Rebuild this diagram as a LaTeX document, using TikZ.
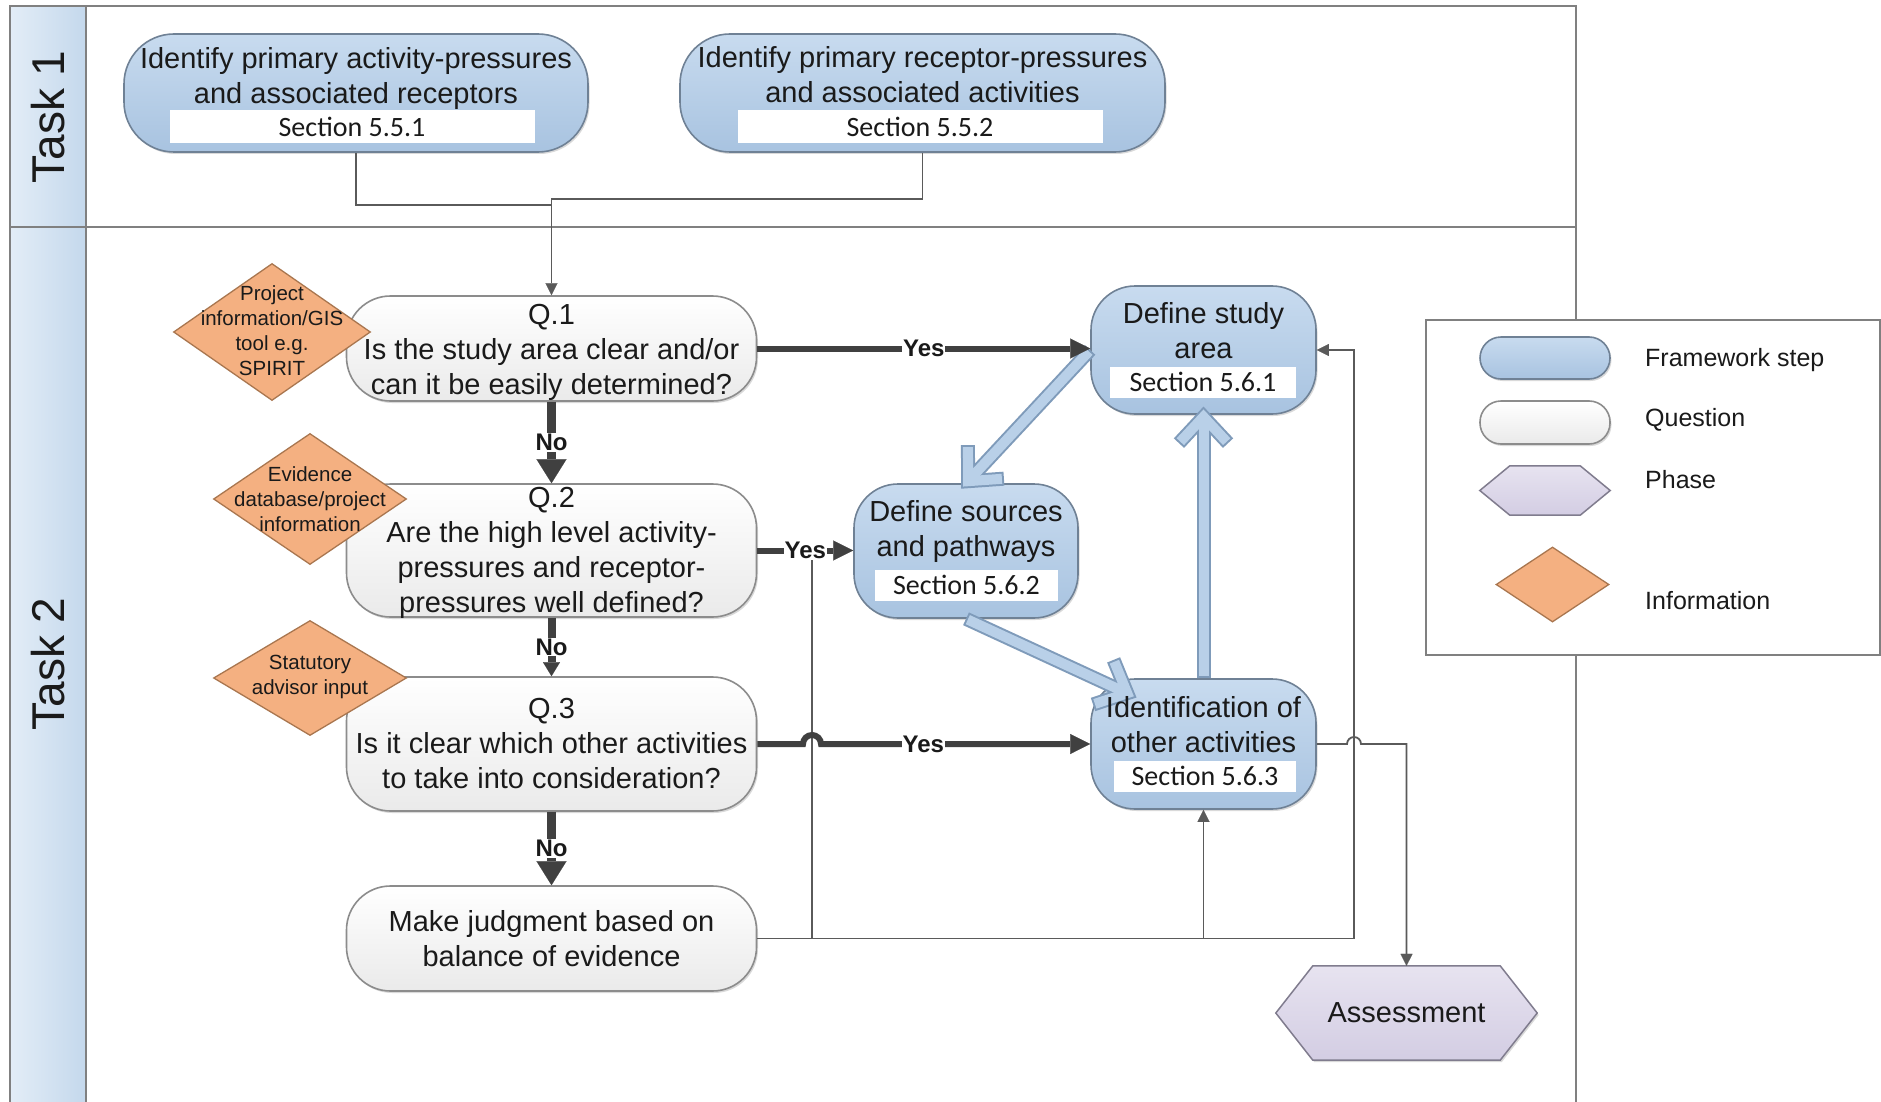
\documentclass[tikz,border=0pt]{standalone}
\usepackage{fontspec}
\setmainfont{Liberation Sans}
\newfontfamily\secfont{Carlito}
\usetikzlibrary{shapes.geometric,arrows.meta,calc,shadows}

\definecolor{poolline}{HTML}{808080}
\definecolor{headL}{HTML}{E3EDF7}
\definecolor{headR}{HTML}{C4D8EC}
\definecolor{fwtop}{HTML}{C8DBEF}
\definecolor{fwbot}{HTML}{A8C3E0}
\definecolor{fwedge}{HTML}{6F8195}
\definecolor{qbot}{HTML}{EAEAEA}
\definecolor{qedge}{HTML}{8C8C8C}
\definecolor{infofill}{HTML}{F4B081}
\definecolor{infoedge}{HTML}{A9764F}
\definecolor{phtop}{HTML}{E7E3F0}
\definecolor{phbot}{HTML}{D3CDE3}
\definecolor{phedge}{HTML}{807C8E}
\definecolor{darkln}{HTML}{404040}
\definecolor{thinln}{HTML}{5A5A5A}
\definecolor{bandfill}{HTML}{B9D0E8}
\definecolor{bandedge}{HTML}{7F9BBA}
\definecolor{txt}{HTML}{1A1A1A}

% wide hollow-looking arrow between framework steps: #1 start, #2 tip
\newcommand\bandarrow[2]{%
  \draw[bandout] (#1) -- (#2);
  \draw[bandout] ($(#2)!36pt!43:(#1)$) -- (#2) -- ($(#2)!36pt!-43:(#1)$);
  \draw[bandin] ($(#1)!2pt!(#2)$) -- (#2);
  \draw[bandin] ($(#2)!34pt!43:(#1)$) -- (#2) -- ($(#2)!34pt!-43:(#1)$);
}

\begin{document}
\begin{tikzpicture}[x=1pt, y=-1pt,
  every node/.style={text=txt},
  softshadow/.style={drop shadow={shadow xshift=1.5pt, shadow yshift=-2pt, opacity=0.15, fill=black}},
  pool/.style={draw=poolline, line width=2pt},
  fwstep/.style={softshadow, draw=fwedge, line width=1.6pt, rounded corners=44pt, top color=fwtop, bottom color=fwbot, inner sep=0pt},
  qshape/.style={softshadow, draw=qedge, line width=1.6pt, top color=white, bottom color=qbot, inner sep=0pt},
  question/.style={qshape, rounded corners=44pt, minimum width=410pt},
  steptext/.style={align=center, inner sep=0pt, font=\fontsize{29pt}{35pt}\selectfont},
  secbox/.style={fill=white, inner sep=0pt, font=\secfont\fontsize{28pt}{30pt}\selectfont},
  infoshape/.style={diamond, draw=infoedge, line width=1.3pt, fill=infofill, inner sep=0pt},
  infotext/.style={align=center, inner sep=0pt, font=\fontsize{20.5pt}{25pt}\selectfont},
  phaseshape/.style={draw=phedge, line width=1.5pt, top color=phtop, bottom color=phbot},
  thinline/.style={draw=thinln, line width=1.8pt},
  thinarrow/.style={thinline, -{Triangle[length=12pt, width=12pt, line width=0.1pt]}},
  yesarrow/.style={draw=darkln, line width=6pt, -{Triangle[length=20pt, width=20pt, line width=0.1pt]}},
  noarrow/.style={draw=darkln, line width=9pt, -{Triangle[length=24pt, width=30pt, line width=0.1pt]}},
  decision/.style={fill=white, inner sep=1pt, font=\bfseries\fontsize{24pt}{26pt}\selectfont},
  bandout/.style={draw=bandedge, line width=14pt, line join=miter},
  bandin/.style={draw=bandfill, line width=10pt, line join=miter},
  legtext/.style={anchor=west, inner sep=0pt, font=\fontsize{25pt}{30pt}\selectfont},
  tasktext/.style={rotate=90, inner sep=0pt, font=\fontsize{46pt}{50pt}\selectfont},
]
\useasboundingbox (0,0) rectangle (1881,1102);
\fill[white] (0,0) rectangle (1881,1102);

% swimlanes
\fill[left color=headL, right color=headR] (10,6) rectangle (86,1102);
\draw[pool] (10,1102) -- (10,6) -- (1576,6) -- (1576,1102);
\draw[pool] (10,227) -- (1576,227);
\draw[pool] (86,6) -- (86,1102);
\node[tasktext] (task1) at (48,117) {Task 1};
\node[tasktext] (task2) at (48,664) {Task 2};

% Task 1 steps
\node[fwstep, rounded corners=50pt, minimum width=464pt, minimum height=118pt] (t1a) at (356,93) {};
\node[steptext] (t1atext) at (356,78.5) {Identify primary activity-pressures\\and associated receptors};
\node[secbox, minimum width=365pt, minimum height=33pt] (t1asec) at (352,127) {Section 5.5.1};
\node[fwstep, rounded corners=50pt, minimum width=485pt, minimum height=118pt] (t1b) at (922.5,93) {};
\node[steptext] (t1btext) at (922.5,75) {Identify primary receptor-pressures\\and associated activities};
\node[secbox, minimum width=365pt, minimum height=33pt] (t1bsec) at (920,127) {Section 5.5.2};

% questions
\node[question, minimum height=105pt] (q1) at (551.5,348.5) {};
\node[steptext] (q1text) at (551.5,352) {Q.1\\Is the study area clear and/or\\can it be easily determined?};
\node[question, minimum height=133pt] (q2) at (551.5,550.5) {};
\node[steptext] (q2text) at (551.5,553) {Q.2\\Are the high level activity-\\pressures and receptor-\\pressures well defined?};
\node[question, minimum height=134pt] (q3) at (551.5,744) {};
\node[steptext] (q3text) at (551.5,744) {Q.3\\Is it clear which other activities\\to take into consideration?};
\node[question, minimum height=105pt] (judge) at (551.5,938.5) {};
\node[steptext] (judgetext) at (551.5,938.5) {Make judgment based on\\balance of evidence};

% framework steps (shapes)
\node[fwstep, minimum width=225pt, minimum height=128pt] (study) at (1203.5,350) {};
\node[fwstep, minimum width=224pt, minimum height=134pt] (sources) at (966,551) {};
\node[fwstep, minimum width=225pt, minimum height=130pt] (ident) at (1203.5,744) {};

% phase
\node[inner sep=0pt, minimum width=261pt, minimum height=94pt] (assess) at (1406.5,1013) {};
\draw[phaseshape, softshadow] (assess.west) -- ([xshift=37pt]assess.north west) -- ([xshift=-37pt]assess.north east)
  -- (assess.east) -- ([xshift=-37pt]assess.south east) -- ([xshift=37pt]assess.south west) -- cycle;
\node[inner sep=0pt, font=\fontsize{29pt}{35pt}\selectfont] (assesstext) at (assess) {Assessment};

% Task 1 to Q.1
\coordinate (ja) at (551.5,205);
\coordinate (jb) at (551.5,199);
\draw[thinline] (t1a.south) |- (ja);
\draw[thinarrow] (t1b.south) |- (jb) -- (q1.north);

% feedback lines from the judgment step
\coordinate (busA) at (812,0);
\coordinate (busB) at (1354,0);
\draw[thinarrow] (judge.east) -| (busB |- study.east) -- (study.east);
\draw[thinline] (judge.east -| busA) -- (busA |- q2.east);
\draw[thinarrow] (judge.east -| ident.south) -- (ident.south);
\draw[thinarrow] (ident.east) -- ($(busB |- ident.east)+(-7,0)$) arc[start angle=180, end angle=360, radius=7]
  -- (ident.east -| assess.north) -- (assess.north);

% wide arrows between framework steps
\coordinate (tipA) at ($(sources.north)+(2,-2)$);
\coordinate (tipB) at ($(ident.north west)+(37,15)$);
\coordinate (tipC) at ($(study.south)+(0,2)$);
\bandarrow{study.west}{tipA}
\bandarrow{sources.south}{tipB}
\bandarrow{ident.north}{tipC}

% framework step texts
\node[steptext] (studytext) at (1203.5,331) {Define study\\area};
\node[secbox, minimum width=186pt, minimum height=31pt] (studysec) at (1203,382) {Section 5.6.1};
\node[steptext] (sourcestext) at (966,531.5) {Define sources\\and pathways};
\node[secbox, minimum width=183pt, minimum height=31pt] (sourcessec) at (966.5,585) {Section 5.6.2};
\node[steptext] (identtext) at (1203.5,725) {Identification of\\other activities};
\node[secbox, minimum width=182pt, minimum height=31pt] (identsec) at (1205,776) {Section 5.6.3};

% decisions
\draw[yesarrow] (q1.east) -- node[decision] (yes1) {Yes} (q1.east -| study.west);
\draw[yesarrow] (q2.east) -- node[decision] (yes2) {Yes} (q2.east -| sources.west);
\draw[yesarrow] (q3.east) -- ($(busA |- q3.east)+(-9,0)$) arc[start angle=180, end angle=360, radius=9]
  -- node[decision, pos=0.38] (yes3) {Yes} (q3.east -| ident.west);
\draw[noarrow] (q1.south) -- node[decision] (no1) {No} (q2.north);
\draw[noarrow, line width=8pt, -{Triangle[length=14pt, width=17pt, line width=0.1pt]}] (q2.south) -- node[decision] (no2) {No} (q3.north);
\draw[noarrow] (q3.south) -- node[decision] (no3) {No} (judge.north);

% information inputs
\node[infoshape, minimum width=197pt, minimum height=137pt] (info1) at (272,332) {};
\node[infotext] (info1text) at (272,331) {Project\\information/GIS\\tool e.g.\\SPIRIT};
\node[infoshape, minimum width=193pt, minimum height=131pt] (info2) at (310,499) {};
\node[infotext] (info2text) at (310,499) {Evidence\\database/project\\information};
\node[infoshape, minimum width=193pt, minimum height=115pt] (info3) at (310,678) {};
\node[infotext] (info3text) at (310,677) {Statutory\\advisor input};

% legend
\node[draw=poolline, line width=2pt, fill=white, inner sep=0pt, minimum width=454pt, minimum height=335pt] (legend) at (1653,487.5) {};
\node[fwstep, rounded corners=21pt, minimum width=130pt, minimum height=42pt] (legfw) at (1545,358) {};
\node[legtext] (legfwtext) at (1645,360) {Framework step};
\node[qshape, rounded corners=21pt, minimum width=130pt, minimum height=43pt] (legq) at (1545,422.5) {};
\node[legtext] (legqtext) at (1645,420) {Question};
\node[inner sep=0pt, minimum width=130pt, minimum height=49pt] (legph) at (1545,490.5) {};
\draw[phaseshape] (legph.west) -- ([xshift=30pt]legph.north west) -- ([xshift=-30pt]legph.north east)
  -- (legph.east) -- ([xshift=-30pt]legph.south east) -- ([xshift=30pt]legph.south west) -- cycle;
\node[legtext] (legphtext) at (1645,479.5) {Phase};
\node[infoshape, minimum width=113pt, minimum height=75pt] (leginfo) at (1552.5,584.5) {};
\node[legtext] (leginfotext) at (1645,600.5) {Information};
\end{tikzpicture}
\end{document}
